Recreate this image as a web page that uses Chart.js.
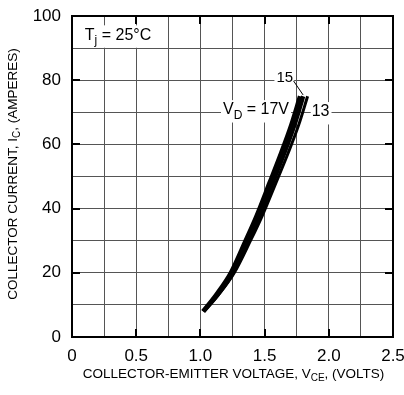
<!DOCTYPE html>
<html>
<head>
<meta charset="utf-8">
<script src="https://cdn.jsdelivr.net/npm/chart.js@4/dist/chart.umd.min.js"></script>
<style>
  html, body { margin: 0; padding: 0; background: #fff; }
  #wrap { width: 404px; height: 395px; }
</style>
</head>
<body>
<div id="wrap"><canvas id="icChart" width="404" height="395"></canvas></div>
<script>
// collector current points, shared by all three V_D curves (A)
const currents = [8, 13, 20, 30, 38, 48, 57.5, 66, 75];
// collector-emitter voltage at each current, per drive voltage (V)
const vce17 = [1.02, 1.12, 1.237, 1.352, 1.44, 1.538, 1.63, 1.707, 1.776];
const vce15 = [1.025, 1.13, 1.252, 1.372, 1.462, 1.562, 1.655, 1.732, 1.80];
const vce13 = [1.029, 1.138, 1.264, 1.39, 1.484, 1.588, 1.685, 1.765, 1.835];

const xTicks = [0, 0.5, 1.0, 1.5, 2.0, 2.5];
const yTicks = [0, 20, 40, 60, 80, 100];

const FONT = '"Liberation Sans", Arial, Helvetica, sans-serif';

const toPoints = (xs) => xs.map((v, i) => ({ x: v, y: currents[i] }));

// text with subscript pieces; returns left edge and width
function richText(ctx, parts, x, y, size, align, draw = true) {
    const subSize = Math.round(size * 0.72);
    let w = 0;
    parts.forEach(p => {
        ctx.font = (p.sub ? subSize : size) + 'px ' + FONT;
        w += ctx.measureText(p.t).width;
    });
    const left = align === 'center' ? x - w / 2 : align === 'right' ? x - w : x;
    if (draw) {
        let cx = left;
        ctx.textBaseline = 'middle';
        ctx.textAlign = 'left';
        parts.forEach(p => {
            ctx.font = (p.sub ? subSize : size) + 'px ' + FONT;
            ctx.fillText(p.t, cx, p.sub ? y + size * 0.35 : y);
            cx += ctx.measureText(p.t).width;
        });
    }
    return { left, width: w };
}

function boxedLabel(ctx, parts, x, y, size, align, pad) {
    ctx.save();
    const m = richText(ctx, parts, x, y, size, align, false);
    ctx.fillStyle = '#fff';
    ctx.fillRect(m.left - pad[0], y - size * 0.62, m.width + pad[0] + pad[1], size * 1.4);
    ctx.fillStyle = '#000';
    richText(ctx, parts, x, y, size, align);
    ctx.restore();
}

const framePlugin = {
    id: 'frame',
    beforeDatasetsDraw(chart) {
        const { ctx, scales: { x, y } } = chart;

        // curve annotations, boxed over the grid
        boxedLabel(ctx, [{ t: 'T' }, { t: 'j', sub: true }, { t: ' = 25°C' }],
            x.getPixelForValue(0.10), y.getPixelForValue(94), 16, 'left', [4, 3]);
        boxedLabel(ctx, [{ t: 'V' }, { t: 'D', sub: true }, { t: ' = 17V' }],
            x.getPixelForValue(1.176), y.getPixelForValue(70.7), 16, 'left', [2, 2]);
        boxedLabel(ctx, [{ t: '15' }],
            x.getPixelForValue(1.722), y.getPixelForValue(80.6), 15, 'right', [2, 1]);
        boxedLabel(ctx, [{ t: '13' }],
            x.getPixelForValue(1.867), y.getPixelForValue(70.1), 16, 'left', [1, 2]);

        // leader from "15" to its curve
        ctx.save();
        ctx.strokeStyle = '#000';
        ctx.lineWidth = 1;
        ctx.beginPath();
        ctx.moveTo(x.getPixelForValue(1.725), y.getPixelForValue(79.8));
        ctx.lineTo(x.getPixelForValue(1.80), y.getPixelForValue(75.4));
        ctx.stroke();
        ctx.restore();
    },
    afterDatasetsDraw(chart) {
        const { ctx, chartArea: a, scales: { x, y } } = chart;
        ctx.save();
        ctx.strokeStyle = '#000';

        // frame
        ctx.lineWidth = 2;
        ctx.strokeRect(a.left, a.top, a.right - a.left, a.bottom - a.top);

        // major ticks on all four sides, pointing inward
        const len = 8;
        xTicks.forEach(v => {
            const px = Math.round(x.getPixelForValue(v));
            ctx.beginPath();
            ctx.moveTo(px, a.bottom); ctx.lineTo(px, a.bottom - len);
            ctx.moveTo(px, a.top); ctx.lineTo(px, a.top + len);
            ctx.stroke();
        });
        yTicks.forEach(v => {
            const py = Math.round(y.getPixelForValue(v));
            ctx.beginPath();
            ctx.moveTo(a.left, py); ctx.lineTo(a.left + len, py);
            ctx.moveTo(a.right, py); ctx.lineTo(a.right - len, py);
            ctx.stroke();
        });

        // axis titles with subscripts
        ctx.fillStyle = '#000';
        richText(ctx, [{ t: 'COLLECTOR-EMITTER VOLTAGE, V' }, { t: 'CE', sub: true }, { t: ', (VOLTS)' }],
            (a.left + a.right) / 2 + 1, 374, 13.5, 'center');
        ctx.translate(13, 174);
        ctx.rotate(-Math.PI / 2);
        richText(ctx, [{ t: 'COLLECTOR CURRENT, I' }, { t: 'C', sub: true }, { t: ', (AMPERES)' }],
            0, 0, 13.5, 'center');
        ctx.restore();
    }
};

const curve = (label, xs, width) => ({
    label,
    data: toPoints(xs),
    showLine: true,
    borderColor: '#000',
    borderWidth: width,
    borderCapStyle: 'butt',
    pointRadius: 0,
    cubicInterpolationMode: 'monotone',
    fill: false
});

const ctx = document.getElementById('icChart').getContext('2d');
new Chart(ctx, {
    type: 'scatter',
    data: {
        datasets: [
            curve('17V', vce17, 4.4),
            curve('15V', vce15, 4.4),
            curve('13V', vce13, 3)
        ]
    },
    options: {
        responsive: false,
        animation: false,
        layout: { padding: { top: 16, right: 11, left: 0, bottom: 0 } },
        plugins: {
            legend: { display: false },
            tooltip: { enabled: false }
        },
        scales: {
            x: {
                type: 'linear',
                min: 0,
                max: 2.5,
                afterFit: s => { s.height = 58; s.paddingLeft = 0; s.paddingRight = 0; },
                border: { display: false },
                grid: { color: '#555', lineWidth: 1, drawTicks: false },
                ticks: {
                    stepSize: 0.25,
                    autoSkip: false,
                    maxRotation: 0,
                    padding: 9,
                    color: '#000',
                    font: { family: FONT, size: 17 },
                    callback: v => xTicks.some(t => Math.abs(t - v) < 1e-6) ? (v === 0 ? '0' : v.toFixed(1)) : ''
                }
            },
            y: {
                type: 'linear',
                min: 0,
                max: 100,
                afterFit: s => { s.width = 72; s.paddingTop = 0; s.paddingBottom = 0; },
                border: { display: false },
                grid: { color: '#555', lineWidth: 1, drawTicks: false },
                ticks: {
                    stepSize: 10,
                    autoSkip: false,
                    padding: 11,
                    color: '#000',
                    font: { family: FONT, size: 17 },
                    callback: v => yTicks.includes(v) ? String(v) : ''
                }
            }
        }
    },
    plugins: [framePlugin]
});
</script>
</body>
</html>
